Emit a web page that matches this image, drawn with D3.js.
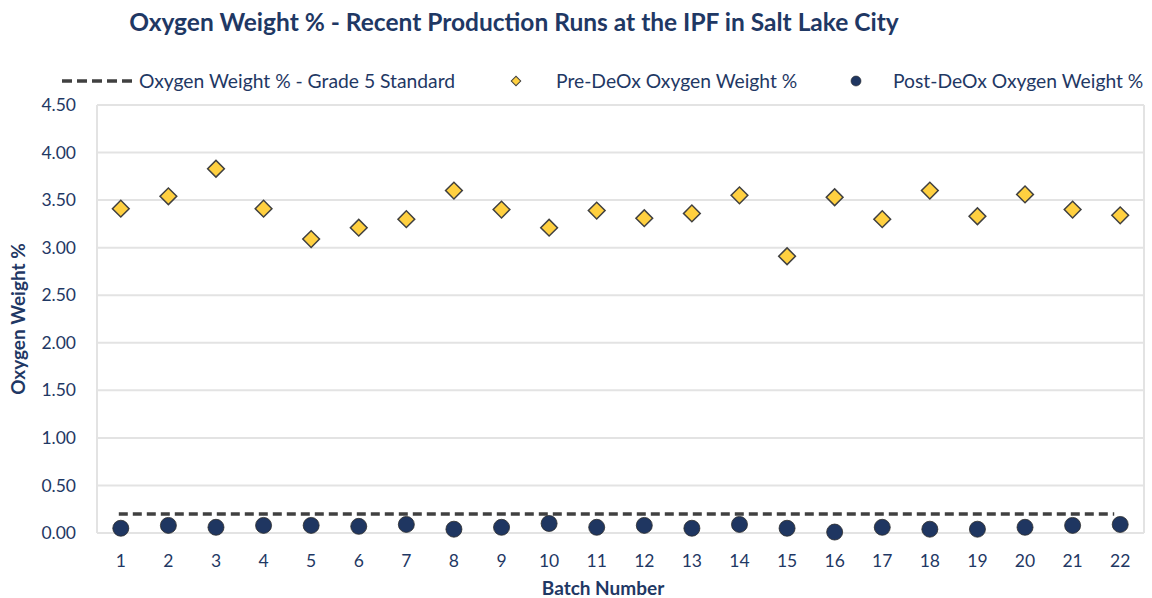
<!DOCTYPE html>
<meta charset="utf-8">
<style>
body { margin: 0; background: #fff; }
svg text { font-family: Lato, "Open Sans", sans-serif; fill: #1f3864; }
.grid line { stroke: #e3e3e3; stroke-width: 2px; }
.axis text { font-size: 17.5px; }
.title { font-size: 24.5px; font-weight: bold; }
.axis-title { font-size: 19px; font-weight: bold; }
.legend text { font-size: 19.3px; }
</style>
<svg width="1152" height="598"></svg>
<script src="https://d3js.org/d3.v7.min.js"></script>
<script>

var batches = d3.range(1, 23);
var preDeOx = [3.41, 3.54, 3.83, 3.41, 3.09, 3.21, 3.30, 3.60, 3.40, 3.21, 3.39,
               3.31, 3.36, 3.55, 2.91, 3.53, 3.30, 3.60, 3.33, 3.56, 3.40, 3.34];
var postDeOx = [0.05, 0.08, 0.06, 0.08, 0.08, 0.07, 0.09, 0.04, 0.06, 0.10, 0.06,
                0.08, 0.05, 0.09, 0.05, 0.01, 0.06, 0.04, 0.04, 0.06, 0.08, 0.09];
var grade5Standard = 0.2;
var yTicks = [0, 0.5, 1, 1.5, 2, 2.5, 3, 3.5, 4, 4.5];
var seriesNames = ["Oxygen Weight % - Grade 5 Standard", "Pre-DeOx Oxygen Weight %", "Post-DeOx Oxygen Weight %"];

var svg = d3.select("svg"),
    margin = {top: 105, right: 8, bottom: 65, left: 97},
    width = +svg.attr("width") - margin.left - margin.right,
    height = +svg.attr("height") - margin.top - margin.bottom;

var x = d3.scaleBand().domain(batches).range([0, width]);
var y = d3.scaleLinear().domain([0, 4.5]).range([height, 0]);

var g = svg.append("g").attr("transform", "translate(" + margin.left + "," + margin.top + ")");

// gridlines + frame
g.append("g").attr("class", "grid")
  .selectAll("line").data(yTicks).enter().append("line")
    .attr("x1", 0).attr("x2", width)
    .attr("y1", function(d) { return y(d); })
    .attr("y2", function(d) { return y(d); });
g.select(".grid").append("line").attr("x1", 0).attr("x2", 0).attr("y1", 0).attr("y2", height);
g.select(".grid").append("line").attr("x1", width).attr("x2", width).attr("y1", 0).attr("y2", height);

// y axis labels
g.append("g").attr("class", "axis")
  .selectAll("text").data(yTicks).enter().append("text")
    .attr("x", -21)
    .attr("y", function(d) { return y(d); })
    .attr("dy", "0.35em")
    .attr("text-anchor", "end")
    .text(function(d) { return d3.format(".2f")(d); });

// x axis labels
g.append("g").attr("class", "axis")
  .selectAll("text").data(batches).enter().append("text")
    .attr("x", function(d) { return x(d) + x.bandwidth() / 2; })
    .attr("y", height + 28)
    .attr("dy", "0.35em")
    .attr("text-anchor", "middle")
    .text(function(d) { return d; });

// axis titles
svg.append("text").attr("class", "axis-title")
  .attr("x", 603).attr("y", 595)
  .attr("text-anchor", "middle")
  .text("Batch Number");

svg.append("text").attr("class", "axis-title")
  .attr("transform", "translate(25,319) rotate(-90)")
  .attr("text-anchor", "middle")
  .text("Oxygen Weight %");

// title
svg.append("text").attr("class", "title")
  .attr("x", 514).attr("y", 31)
  .attr("text-anchor", "middle")
  .text("Oxygen Weight % - Recent Production Runs at the IPF in Salt Lake City");

// standard line
g.append("line")
  .attr("x1", x(1) + x.bandwidth() / 2 - 2)
  .attr("x2", x(22) + x.bandwidth() / 2 - 6)
  .attr("y1", y(grade5Standard)).attr("y2", y(grade5Standard))
  .attr("stroke", "#404040").attr("stroke-width", 3.5)
  .attr("stroke-dasharray", "9,5");

var diamond = d3.symbol().type(d3.symbolSquare).size(140);

// pre-deox diamonds
g.append("g").selectAll("path").data(preDeOx).enter().append("path")
  .attr("d", diamond)
  .attr("transform", function(d, i) {
    return "translate(" + (x(batches[i]) + x.bandwidth() / 2) + "," + y(d) + ") rotate(45)";
  })
  .attr("fill", "#ffd040").attr("stroke", "#404040").attr("stroke-width", 1.5);

// post-deox circles
g.append("g").selectAll("circle").data(postDeOx).enter().append("circle")
  .attr("cx", function(d, i) { return x(batches[i]) + x.bandwidth() / 2; })
  .attr("cy", function(d) { return y(d); })
  .attr("r", 8)
  .attr("fill", "#1f3661").attr("stroke", "#2b2b2b").attr("stroke-width", 0.8);

// legend
var legend = svg.append("g").attr("class", "legend");
legend.append("line")
  .attr("x1", 62).attr("x2", 133).attr("y1", 81).attr("y2", 81)
  .attr("stroke", "#404040").attr("stroke-width", 3.5)
  .attr("stroke-dasharray", "10,5");
legend.append("text").attr("x", 139).attr("y", 81).attr("dy", "0.35em").text(seriesNames[0]);

legend.append("path")
  .attr("d", d3.symbol().type(d3.symbolSquare).size(45))
  .attr("transform", "translate(516,81) rotate(45)")
  .attr("fill", "#ffd040").attr("stroke", "#404040").attr("stroke-width", 1);
legend.append("text").attr("x", 556).attr("y", 81).attr("dy", "0.35em").text(seriesNames[1]);

legend.append("circle")
  .attr("cx", 856).attr("cy", 81).attr("r", 5)
  .attr("fill", "#1f3661").attr("stroke", "#2b2b2b").attr("stroke-width", 0.6);
legend.append("text").attr("x", 893).attr("y", 81).attr("dy", "0.35em").text(seriesNames[2]);

</script>
